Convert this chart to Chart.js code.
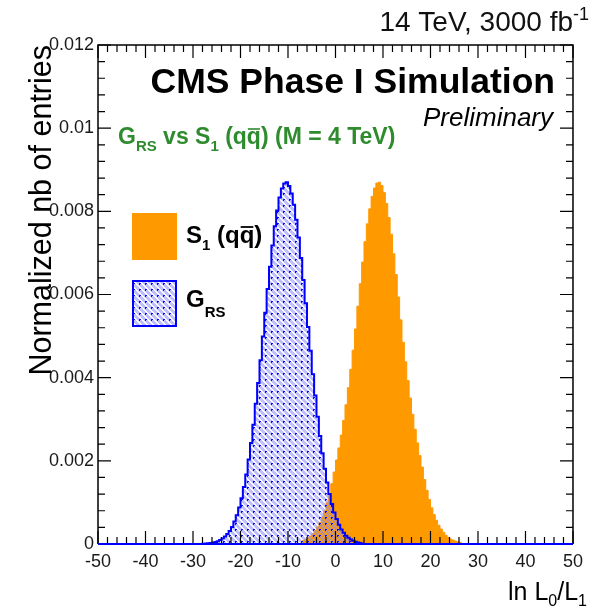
<!DOCTYPE html>
<html><head><meta charset="utf-8">
<script src="https://cdn.jsdelivr.net/npm/chart.js@4/dist/chart.umd.min.js"></script>
<style>html,body{margin:0;padding:0;background:#fff;}</style>
</head><body>
<canvas id="c" width="590" height="611"></canvas>
<script>
// ---- data ----
const binWidth = 0.5;
const blueBinStart = -28;   // G_RS histogram first bin lower edge
const blueValues = [0.000007, 0.000011, 0.000016, 0.000023, 0.000033, 0.000047, 0.000067, 0.000094, 0.00013, 0.00018,
  0.00024, 0.00031, 0.00041, 0.00054, 0.00069, 0.00088, 0.00110, 0.00137, 0.00167, 0.00203,
  0.00243, 0.00287, 0.00337, 0.00387, 0.00442, 0.00499, 0.00556, 0.00613, 0.00667, 0.00718,
  0.00764, 0.00802, 0.00833, 0.00855, 0.00867, 0.00870, 0.00861, 0.00843, 0.00816, 0.00780,
  0.00737, 0.00688, 0.00635, 0.00579, 0.00522, 0.00465, 0.00408, 0.00357, 0.00306, 0.00260,
  0.00218, 0.00181, 0.00148, 0.00120, 0.00096, 0.00076, 0.00060, 0.00046, 0.00035, 0.00027,
  0.00020, 0.00015, 0.00011, 0.000077, 0.000054, 0.000038, 0.000027];
const orangeBinStart = -7;  // S1 (qqbar) histogram first bin lower edge
const orangeValues = [0.000084, 0.00011, 0.00015, 0.00019, 0.00025, 0.00032, 0.00041, 0.00052, 0.00065, 0.00080,
  0.00099, 0.00120, 0.00145, 0.00173, 0.00202, 0.00231, 0.00262, 0.00297, 0.00335, 0.00376,
  0.00420, 0.00466, 0.00517, 0.00572, 0.00626, 0.00678, 0.00727, 0.00770, 0.00806, 0.00836,
  0.00856, 0.00868, 0.00870, 0.00862, 0.00845, 0.00819, 0.00785, 0.00745, 0.00698, 0.00648,
  0.00594, 0.00539, 0.00485, 0.00438, 0.00393, 0.00351, 0.00312, 0.00276, 0.00243, 0.00213,
  0.00185, 0.00155, 0.00129, 0.00107, 0.00087, 0.00071, 0.00057, 0.00045, 0.00036, 0.00028,
  0.00021, 0.00016, 0.00012, 0.000094, 0.000070, 0.000051, 0.000038];
const xRange = [-50, 50];
const xTickValues = [-50, -40, -30, -20, -10, 0, 10, 20, 30, 40, 50];
const xTickLabels = ['-50', '-40', '-30', '-20', '-10', '0', '10', '20', '30', '40', '50'];
const yRange = [0, 0.012];
const yTickValues = [0, 0.002, 0.004, 0.006, 0.008, 0.01, 0.012];
const yTickLabels = ['0', '0.002', '0.004', '0.006', '0.008', '0.01', '0.012'];

// ---- helpers ----
const FF = "'Liberation Sans', Arial, sans-serif";
const ORANGE = '#ff9900';
const BLUE = '#0000ff';
const GREEN = '#2e8b2e';

function histPoints(start, vals, padTo) {
  const pts = [];
  if (padTo) pts.push({x: padTo[0], y: 0});
  vals.forEach((v, i) => pts.push({x: start + i * binWidth, y: v}));
  pts.push({x: start + vals.length * binWidth, y: 0});
  if (padTo) pts.push({x: padTo[1], y: 0});
  return pts;
}

const canvas = document.getElementById('c');
const ctx0 = canvas.getContext('2d');
function makeHatch() {
  const t = document.createElement('canvas');
  t.width = 6; t.height = 6;
  const g = t.getContext('2d');
  g.fillStyle = 'rgba(140,140,255,0.55)';
  g.fillRect(0, 0, 6, 6);
  for (let i = 0; i < 6; i++) { g.clearRect(i, (i + 3) % 6, 1, 1); g.clearRect(i, (i + 4) % 6, 1, 1); }
  g.fillStyle = '#0a0aff';
  g.fillRect(1, 1, 2, 1);
  g.fillRect(1, 2, 1, 1);
  return ctx0.createPattern(t, 'repeat');
}
const hatch = makeHatch();

function drawRuns(ctx, x, y, runs, align) {
  let total = 0;
  runs.forEach(r => { ctx.font = r.font; r.w = ctx.measureText(r.t).width; total += r.w; });
  let cx = align === 'right' ? x - total : x;
  runs.forEach(r => {
    ctx.font = r.font;
    ctx.fillText(r.t, cx, y + (r.dy || 0));
    if (r.over) {
      ctx.save();
      ctx.lineWidth = r.overW || 1.5;
      ctx.strokeStyle = ctx.fillStyle;
      ctx.beginPath();
      ctx.moveTo(cx + 1, y - r.over);
      ctx.lineTo(cx + r.w - 1, y - r.over);
      ctx.stroke();
      ctx.restore();
    }
    cx += r.w;
  });
}

const decor = {
  id: 'decor',
  afterDatasetsDraw(chart) {
    const {ctx, chartArea: a, scales: {x, y}} = chart;
    ctx.save();
    ctx.strokeStyle = '#000';
    ctx.lineWidth = 1.5;
    ctx.beginPath();
    ctx.moveTo(a.left, a.bottom); ctx.lineTo(a.left, a.top); ctx.lineTo(a.right, a.top); ctx.lineTo(a.right, a.bottom);
    ctx.stroke();
    ctx.lineWidth = 1.2;
    ctx.beginPath();
    for (let k = 0; k <= 50; k++) {
      const v = xRange[0] + k * 2;
      const px = x.getPixelForValue(v);
      const len = (k % 5 === 0) ? 13 : 7;
      ctx.moveTo(px, a.bottom); ctx.lineTo(px, a.bottom - len);
      ctx.moveTo(px, a.top); ctx.lineTo(px, a.top + len);
    }
    for (let k = 0; k <= 30; k++) {
      const v = k * 0.0004;
      const py = y.getPixelForValue(v);
      const len = (k % 5 === 0) ? 13 : 7;
      ctx.moveTo(a.left, py); ctx.lineTo(a.left + len, py);
      ctx.moveTo(a.right, py); ctx.lineTo(a.right - len, py);
    }
    ctx.stroke();
    ctx.strokeStyle = BLUE;
    ctx.lineWidth = 2;
    ctx.beginPath();
    ctx.moveTo(a.left, a.bottom); ctx.lineTo(a.right, a.bottom);
    ctx.stroke();
    ctx.restore();
  },
  afterDraw(chart) {
    const ctx = chart.ctx;
    ctx.save();
    ctx.textBaseline = 'alphabetic';
    ctx.fillStyle = '#111';
    drawRuns(ctx, 589, 31, [
      {t: '14 TeV, 3000 fb', font: `28px ${FF}`},
      {t: '-1', font: `18px ${FF}`, dy: -11}
    ], 'right');
    ctx.fillStyle = '#000';
    ctx.font = `bold 35.5px ${FF}`;
    ctx.textAlign = 'right';
    ctx.fillText('CMS Phase I Simulation', 555, 93);
    ctx.font = `italic 26px ${FF}`;
    ctx.fillText('Preliminary', 553, 126);
    ctx.textAlign = 'left';
    ctx.fillStyle = GREEN;
    const gb = `bold 23px ${FF}`, gs = `bold 15px ${FF}`;
    drawRuns(ctx, 118, 144, [
      {t: 'G', font: gb}, {t: 'RS', font: gs, dy: 7},
      {t: ' vs ', font: gb}, {t: 'S', font: gb}, {t: '1', font: gs, dy: 7},
      {t: ' (q', font: gb}, {t: 'q', font: gb, over: 15, overW: 1.6},
      {t: ') (M = 4 TeV)', font: gb}
    ]);
    ctx.fillStyle = ORANGE;
    ctx.fillRect(132, 213, 45, 47);
    ctx.fillStyle = hatch;
    ctx.fillRect(132, 280, 45, 47);
    ctx.strokeStyle = BLUE;
    ctx.lineWidth = 2;
    ctx.strokeRect(133, 281, 43, 45);
    ctx.fillStyle = '#000';
    const lb = `bold 24px ${FF}`, ls = `bold 15px ${FF}`;
    drawRuns(ctx, 186, 243, [
      {t: 'S', font: lb}, {t: '1', font: ls, dy: 7},
      {t: ' (q', font: lb}, {t: 'q', font: lb, over: 16, overW: 1.8}, {t: ')', font: lb}
    ]);
    drawRuns(ctx, 186, 307, [
      {t: 'G', font: lb}, {t: 'RS', font: ls, dy: 10}
    ]);
    drawRuns(ctx, 587, 600, [
      {t: 'ln L', font: `25px ${FF}`}, {t: '0', font: `16px ${FF}`, dy: 6},
      {t: '/L', font: `25px ${FF}`}, {t: '1', font: `16px ${FF}`, dy: 6}
    ], 'right');
    ctx.save();
    ctx.translate(51, 45);
    ctx.rotate(-Math.PI / 2);
    ctx.font = `30.5px ${FF}`;
    ctx.textAlign = 'right';
    ctx.fillText('Normalized nb of entries', 0, 0);
    ctx.restore();
    ctx.restore();
  }
};

new Chart(canvas, {
  type: 'line',
  data: {
    datasets: [
      {
        label: 'G_RS',
        data: histPoints(blueBinStart, blueValues, xRange),
        stepped: 'before',
        borderColor: BLUE,
        borderWidth: 2,
        backgroundColor: hatch,
        fill: 'origin',
        pointRadius: 0,
        clip: false
      },
      {
        label: 'S1 (qq)',
        data: histPoints(orangeBinStart, orangeValues, null),
        stepped: 'before',
        borderColor: ORANGE,
        borderWidth: 1,
        backgroundColor: ORANGE,
        fill: 'origin',
        pointRadius: 0
      }
    ]
  },
  options: {
    responsive: false,
    animation: false,
    devicePixelRatio: 1,
    layout: {autoPadding: false, padding: {left: 0, top: 45, right: 12, bottom: 0}},
    plugins: {legend: {display: false}, tooltip: {enabled: false}},
    scales: {
      x: {
        type: 'linear', min: xRange[0], max: xRange[1],
        grid: {display: false, drawTicks: false},
        border: {display: false},
        afterBuildTicks: s => { s.ticks = xTickValues.map(v => ({value: v})); },
        afterFit: s => { s.height = 67; },
        ticks: {
          padding: 7, maxRotation: 0, autoSkip: false,
          color: '#1a1a1a', font: {family: FF, size: 18},
          callback: (v, i) => xTickLabels[i]
        }
      },
      y: {
        type: 'linear', min: yRange[0], max: yRange[1],
        grid: {display: false, drawTicks: false},
        border: {display: false},
        afterBuildTicks: s => { s.ticks = yTickValues.map(v => ({value: v})); },
        afterFit: s => { s.width = 98; },
        ticks: {
          padding: 4, autoSkip: false,
          color: '#1a1a1a', font: {family: FF, size: 18},
          callback: (v, i) => yTickLabels[i]
        }
      }
    }
  },
  plugins: [decor]
});
</script>
</body></html>
